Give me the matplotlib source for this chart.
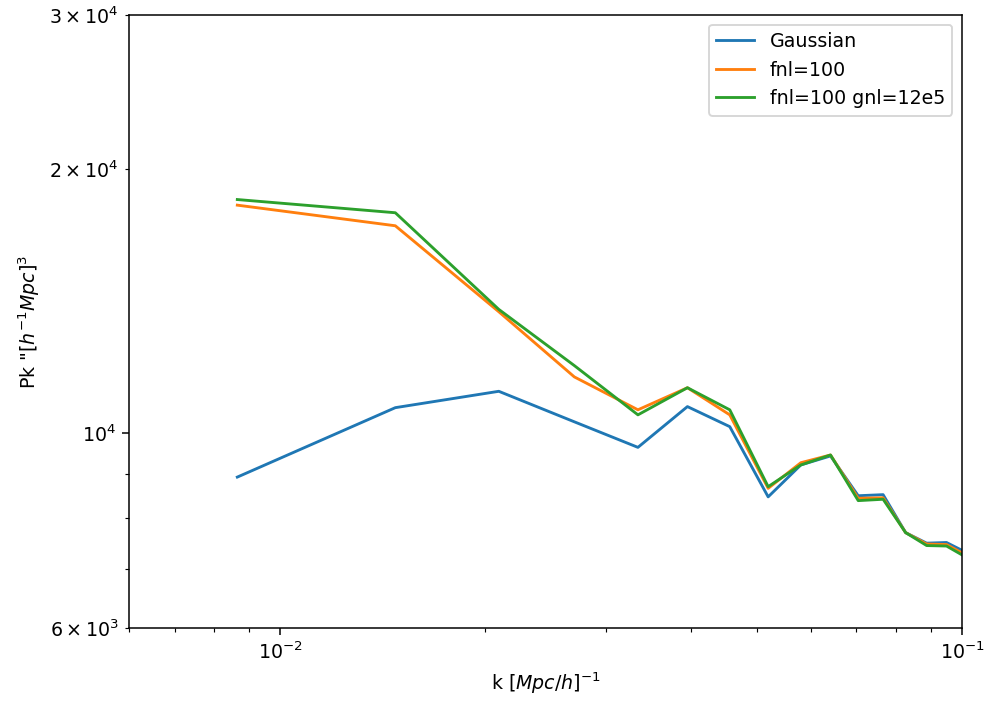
import matplotlib
matplotlib.use("Agg")
import matplotlib.pyplot as plt

k = [0.00865, 0.01475, 0.02092, 0.0270, 0.03347, 0.03956, 0.04564, 0.05196,
     0.05802, 0.06414, 0.07043, 0.07661, 0.08267, 0.08875, 0.0949, 0.1006]

pk_gauss = [8917, 10700, 11170, 10310, 9641, 10730, 10180, 8466,
            9206, 9426, 8491, 8515, 7707, 7497, 7510, 7340]
pk_fnl = [18210, 17250, 13765, 11600, 10640, 11275, 10500, 8658,
          9260, 9450, 8435, 8445, 7707, 7480, 7470, 7290]
pk_fnl_gnl = [18480, 17850, 13850, 11950, 10500, 11275, 10640, 8696,
              9206, 9450, 8383, 8413, 7707, 7450, 7441, 7250]

labels = ["Gaussian", "fnl=100", "fnl=100 gnl=12e5"]

DPI = 137
fig = plt.figure(figsize=(984 / DPI, 702 / DPI), dpi=DPI)
ax = fig.add_axes([129/984, 1-628/702, (962-129)/984, (628-15)/702])

for series, lab in zip([pk_gauss, pk_fnl, pk_fnl_gnl], labels):
    ax.plot(k, series, label=lab)

ax.set_xscale("log")
ax.set_yscale("log")
ax.set_xlim(0.006, 0.1)
ax.set_ylim(6e3, 3e4)
ax.set_xlabel(r"k $[Mpc/h]^{-1}$")
ax.set_ylabel(r'Pk "$[h^{-1}Mpc]^3$')
ax.legend(loc="upper right")

fig.savefig("out.png", dpi=DPI)
